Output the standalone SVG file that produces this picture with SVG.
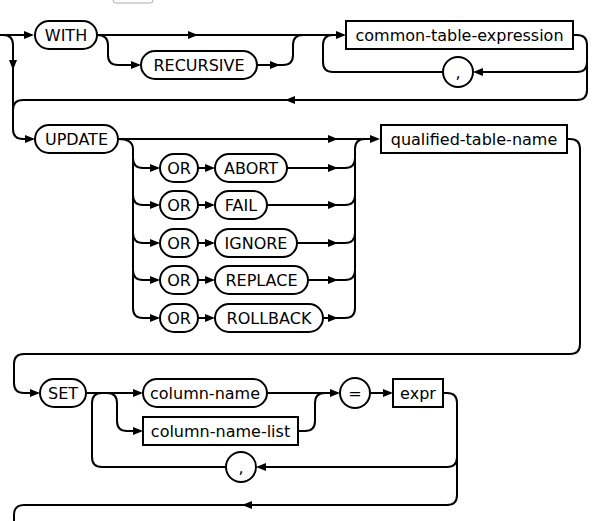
<svg xmlns="http://www.w3.org/2000/svg" width="596" height="521" viewBox="0 0 596 521">
<style>
.n{fill:#fff;stroke:#000;stroke-width:2}
.t{font-family:"DejaVu Sans",Verdana,sans-serif;font-size:16px;fill:#000;text-anchor:middle}
.c path{fill:none;stroke:#000;stroke-width:2}
.a{marker-end:url(#ah)}
</style>
<defs>
<marker id="ah" viewBox="0 0 10 8" refX="8" refY="4" markerWidth="10" markerHeight="8" markerUnits="userSpaceOnUse" orient="auto"><path d="M0,0 L10,4 L0,8 z" fill="#000"/></marker>
</defs>
<rect x="113" y="-10" width="40" height="13" rx="3" fill="#fff" stroke="#aaa" stroke-width="1"/>
<g class="c" id="connectors">
<path class="a" d="M0,35 H32"/>
<path class="a" d="M3,35 Q13,35 13,45 V68"/>
<path class="a" d="M13,68 V129 Q13,139 23,139 H33"/>
<path class="a" d="M587,90 Q587,100 577,100 H287"/>
<path d="M287,100 H23 Q13,100 13,110"/>
<path class="a" d="M97,35 H196"/>
<path class="a" d="M196,35 H344"/>
<path class="a" d="M97,35 Q108,35 108,45 V55 Q108,65 118,65 H139"/>
<path class="a" d="M257,65 H278"/>
<path d="M278,65 H283 Q293,65 293,55 V45 Q293,35 303,35"/>
<path d="M573,35 H577 Q587,35 587,45 V90"/>
<path class="a" d="M587,62 Q587,72 577,72 H475"/>
<path d="M443,72 H333 Q323,72 323,62 V45 Q323,35 333,35"/>
<path class="a" d="M118,139 H336"/>
<path class="a" d="M336,139 H378"/>
<path class="a" d="M118,139 Q133,139 133,149 V308 Q133,318 143,318 H158"/>
<path class="a" d="M133,158 Q133,168 143,168 H158"/>
<path class="a" d="M133,195 Q133,205 143,205 H158"/>
<path class="a" d="M133,233 Q133,243 143,243 H158"/>
<path class="a" d="M133,270 Q133,280 143,280 H158"/>
<path class="a" d="M198,168 H213"/>
<path class="a" d="M198,205 H213"/>
<path class="a" d="M198,243 H213"/>
<path class="a" d="M198,280 H213"/>
<path class="a" d="M198,318 H213"/>
<path class="a" d="M287,168 H336"/>
<path class="a" d="M267,205 H336"/>
<path class="a" d="M297,243 H336"/>
<path class="a" d="M308,280 H336"/>
<path class="a" d="M323,318 H336"/>
<path d="M336,318 H345 Q355,318 355,308 V149 Q355,139 365,139"/>
<path d="M336,168 H345 Q355,168 355,158"/>
<path d="M336,205 H345 Q355,205 355,195"/>
<path d="M336,243 H345 Q355,243 355,233"/>
<path d="M336,280 H345 Q355,280 355,270"/>
<path class="a" d="M567,139 H570 Q580,139 580,149 V344 Q580,354 570,354 H24 Q14,354 14,364 V383 Q14,393 24,393 H38"/>
<path class="a" d="M86,393 H141"/>
<path class="a" d="M107,393 Q117,393 117,403 V421 Q117,431 127,431 H141"/>
<path class="a" d="M267,393 H338"/>
<path d="M298,431 H305 Q315,431 315,421 V403 Q315,393 325,393"/>
<path class="a" d="M370,393 H391"/>
<path class="a" d="M443,393 H447 Q457,393 457,403 V457 Q457,467 447,467 H258"/>
<path class="a" d="M457,457 V495 Q457,505 447,505 H244"/>
<path d="M244,505 H24 Q14,505 14,515 V521"/>
<path d="M226,467 H102 Q92,467 92,457 V403 Q92,393 102,393"/>
</g>
<g id="with"><rect class="n" x="35" y="21" width="62" height="28" rx="14"/><text class="t" x="66" y="41">WITH</text></g>
<g id="recursive"><rect class="n" x="141" y="51" width="116" height="28" rx="14"/><text class="t" x="199" y="71">RECURSIVE</text></g>
<g id="cte"><rect class="n" x="346" y="21" width="227" height="28"/><text class="t" x="459.5" y="41">common-table-expression</text></g>
<g id="comma1"><circle class="n" cx="458" cy="72" r="15"/><text class="t" x="458" y="78">,</text></g>
<g id="update"><rect class="n" x="35" y="125" width="83" height="28" rx="14"/><text class="t" x="76.5" y="145">UPDATE</text></g>
<g id="qtn"><rect class="n" x="381" y="125" width="186" height="28"/><text class="t" x="474" y="145">qualified-table-name</text></g>
<g id="or1"><rect class="n" x="160" y="154" width="38" height="28" rx="14"/><text class="t" x="179" y="174">OR</text></g>
<g id="abort"><rect class="n" x="215" y="154" width="72" height="28" rx="14"/><text class="t" x="251" y="174">ABORT</text></g>
<g id="or2"><rect class="n" x="160" y="191" width="38" height="28" rx="14"/><text class="t" x="179" y="211">OR</text></g>
<g id="fail"><rect class="n" x="215" y="191" width="52" height="28" rx="14"/><text class="t" x="241" y="211">FAIL</text></g>
<g id="or3"><rect class="n" x="160" y="229" width="38" height="28" rx="14"/><text class="t" x="179" y="249">OR</text></g>
<g id="ignore"><rect class="n" x="215" y="229" width="82" height="28" rx="14"/><text class="t" x="256" y="249">IGNORE</text></g>
<g id="or4"><rect class="n" x="160" y="266" width="38" height="28" rx="14"/><text class="t" x="179" y="286">OR</text></g>
<g id="replace"><rect class="n" x="215" y="266" width="93" height="28" rx="14"/><text class="t" x="261.5" y="286">REPLACE</text></g>
<g id="or5"><rect class="n" x="160" y="304" width="38" height="28" rx="14"/><text class="t" x="179" y="324">OR</text></g>
<g id="rollback"><rect class="n" x="215" y="304" width="108" height="28" rx="14"/><text class="t" x="269" y="324">ROLLBACK</text></g>
<g id="set"><rect class="n" x="40" y="379" width="46" height="28" rx="14"/><text class="t" x="63" y="399">SET</text></g>
<g id="column-name"><rect class="n" x="143" y="379" width="124" height="28" rx="14"/><text class="t" x="205" y="399">column-name</text></g>
<g id="column-name-list"><rect class="n" x="143" y="417" width="155" height="28"/><text class="t" x="220.5" y="437">column-name-list</text></g>
<g id="eq"><circle class="n" cx="355" cy="393" r="15"/><text class="t" x="355" y="399">=</text></g>
<g id="expr"><rect class="n" x="393" y="379" width="50" height="28"/><text class="t" x="418" y="399">expr</text></g>
<g id="comma2"><circle class="n" cx="241" cy="467" r="15"/><text class="t" x="241" y="473">,</text></g>
</svg>
